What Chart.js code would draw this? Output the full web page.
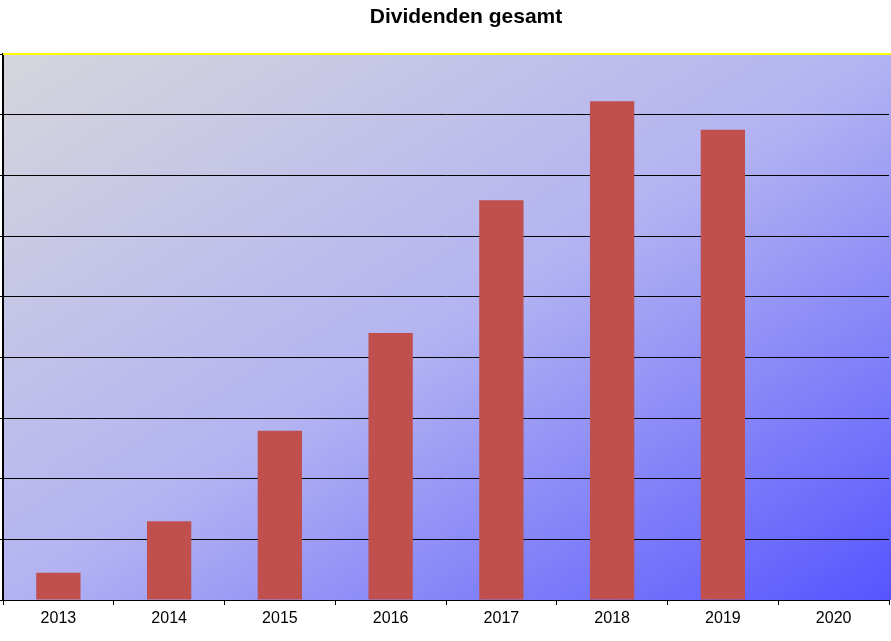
<!DOCTYPE html>
<html>
<head>
<meta charset="utf-8">
<script src="https://cdn.jsdelivr.net/npm/chart.js@4/dist/chart.umd.min.js"></script>
<style>
  html, body { margin: 0; padding: 0; background: #fff; }
  canvas { display: block; }
</style>
</head>
<body>
<canvas id="chart" width="891" height="641"></canvas>
<script>
// Daten
const years = ['2013', '2014', '2015', '2016', '2017', '2018', '2019', '2020'];
const dividends = [0.45, 1.3, 2.79, 4.4, 6.59, 8.22, 7.75, 0];
const yTicks = [0, 1, 2, 3, 4, 5, 6, 7, 8, 9];

// Hintergrund mit Verlauf (Ecke zu Ecke) + gelbe Oberkante + Titel
const plotBackground = {
  id: 'plotBackground',
  beforeDraw(chart) {
    const { ctx, chartArea: a } = chart;
    ctx.save();
    ctx.translate(a.left, a.top);
    ctx.scale(chart.width - a.left, a.bottom - a.top);
    const g = ctx.createLinearGradient(0, 0, 1, 1);
    g.addColorStop(0, '#d6d6dc');
    g.addColorStop(0.5, '#b3b3f2');
    g.addColorStop(1, '#5555ff');
    ctx.fillStyle = g;
    ctx.fillRect(0, 0, 1, 1);
    ctx.restore();
  },
  afterDraw(chart) {
    const { ctx, chartArea: a } = chart;
    ctx.save();
    ctx.strokeStyle = '#ffff00';
    ctx.lineWidth = 2;
    ctx.beginPath();
    ctx.moveTo(a.left, a.top);
    ctx.lineTo(chart.width, a.top);
    ctx.stroke();
    ctx.fillStyle = '#000';
    ctx.font = 'bold 21px "Liberation Sans", Arial, sans-serif';
    ctx.textAlign = 'center';
    ctx.textBaseline = 'middle';
    ctx.fillText('Dividenden gesamt', 466, 17);
    ctx.restore();
  }
};

new Chart(document.getElementById('chart'), {
  type: 'bar',
  data: {
    labels: years,
    datasets: [{
      data: dividends,
      backgroundColor: '#c0504d',
      barPercentage: 0.4,
      categoryPercentage: 1
    }]
  },
  options: {
    responsive: false,
    animation: false,
    layout: { padding: { top: 54, left: 0, right: 2, bottom: 0 } },
    plugins: {
      legend: { display: false },
      tooltip: { enabled: false }
    },
    scales: {
      x: {
        grid: { drawOnChartArea: false, color: '#000', tickLength: 5 },
        border: { color: '#000', width: 1 },
        ticks: { color: '#000', font: { family: '"Liberation Sans", Arial', size: 16 }, padding: 4 },
        afterFit: s => { s.height = 41; }
      },
      y: {
        min: 0,
        max: 9,
        afterBuildTicks: s => { s.ticks = yTicks.map(v => ({ value: v })); },
        grid: { color: '#000', tickLength: 3 },
        border: { color: '#000', width: 2 },
        ticks: { display: false },
        afterFit: s => { s.width = 3; }
      }
    }
  },
  plugins: [plotBackground]
});
</script>
</body>
</html>
